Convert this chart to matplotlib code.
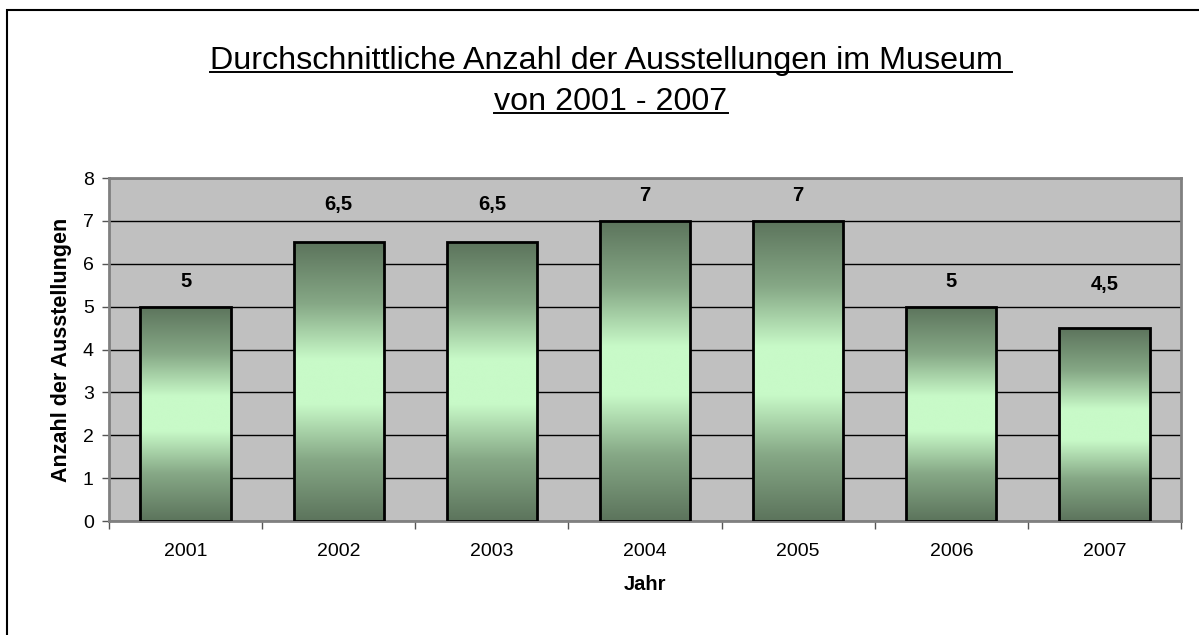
import numpy as np
import matplotlib.pyplot as plt
from matplotlib.colors import LinearSegmentedColormap
from matplotlib.patches import Rectangle
from matplotlib.lines import Line2D

plt.rcParams['font.family'] = ['Liberation Sans', 'DejaVu Sans']

# Data
years = ['2001', '2002', '2003', '2004', '2005', '2006', '2007']
values = [5, 6.5, 6.5, 7, 7, 5, 4.5]
value_labels = ['5', '6,5', '6,5', '7', '7', '5', '4,5']

# label offsets above the bar tops (points), as placed in the original
label_offsets = [18, 27.5, 27.5, 18, 18, 18, 31.5]

W, H = 1199, 635
fig = plt.figure(figsize=(W / 100, H / 100), dpi=100)
fig.patch.set_facecolor('white')

ax = fig.add_axes([109 / W, 1 - 521 / H, (1181 - 109) / W, (521 - 178) / H])
ax.set_facecolor('#c0c0c0')

x = np.arange(len(years))
bar_w = 0.59

# gradient: dark at top and bottom, light in the middle
cmap = LinearSegmentedColormap.from_list(
    'grn', [(0.0, '#5c745c'), (0.22, '#86a886'), (0.42, '#c8fac8'), (0.58, '#c8fac8'),
            (0.78, '#86a886'), (1.0, '#5c745c')])
grad = np.linspace(0, 1, 256).reshape(-1, 1)

bars = ax.bar(x, values, width=bar_w, color='none', edgecolor='black', linewidth=2, zorder=3)
for bar in bars:
    x0, y0 = bar.get_x(), bar.get_y()
    w, h = bar.get_width(), bar.get_height()
    im = ax.imshow(grad, cmap=cmap, aspect='auto', extent=[x0, x0 + w, y0, y0 + h],
                   origin='lower', zorder=2, interpolation='bicubic')
    im.set_clip_path(bar)

for xi, v, lab, off in zip(x, values, value_labels, label_offsets):
    ax.annotate(lab, (xi, v), xytext=(0, off), textcoords='offset points',
                ha='center', va='center', fontsize=14.5, fontweight='bold')

ax.set_xlim(-0.5, len(years) - 0.5)
ax.set_ylim(0, 8)
ax.set_yticks(range(0, 9))
ax.yaxis.grid(True, color='black', linewidth=1)
ax.set_axisbelow(True)

ax.set_xticks(x)
ax.set_xticklabels(years, fontsize=14)
ax.set_xticks(np.arange(-0.5, len(years)), minor=True)
ax.tick_params(axis='x', which='major', length=0, pad=16)
ax.tick_params(axis='x', which='minor', length=6, width=1, color='#555555', direction='out')
ax.tick_params(axis='y', labelsize=14, length=5, width=1, color='#555555', direction='out', pad=6)

for s in ax.spines.values():
    s.set_color('#808080')
    s.set_linewidth(2)

ax.set_xlabel('Jahr', fontsize=14.5, fontweight='bold', labelpad=11)
ax.set_ylabel('Anzahl der Ausstellungen', fontsize=15.5, fontweight='bold', labelpad=8)

# title with underline
title_lines = ['Durchschnittliche Anzahl der Ausstellungen im Museum ', 'von 2001 - 2007']
t1 = fig.text(611 / W, 1 - 69 / H, title_lines[0], ha='center', va='baseline', fontsize=23.2)
t2 = fig.text(611 / W, 1 - 110 / H, title_lines[1], ha='center', va='baseline', fontsize=23.2)

fig.canvas.draw()
r = fig.canvas.get_renderer()
for t, base in [(t1, 69), (t2, 110)]:
    bb = t.get_window_extent(renderer=r)
    yl = (H - base - 3) / H
    fig.lines.append(Line2D([bb.x0 / W, bb.x1 / W], [yl, yl], transform=fig.transFigure,
                            color='black', linewidth=1.4))

# outer chart border
border = Rectangle((7 / W, -0.1), 1.2, 1 - 10 / H + 0.1, fill=False, edgecolor='black',
                   linewidth=1.5, transform=fig.transFigure, clip_on=False)
fig.patches.append(border)

fig.savefig('out.png', dpi=100, facecolor='white')
